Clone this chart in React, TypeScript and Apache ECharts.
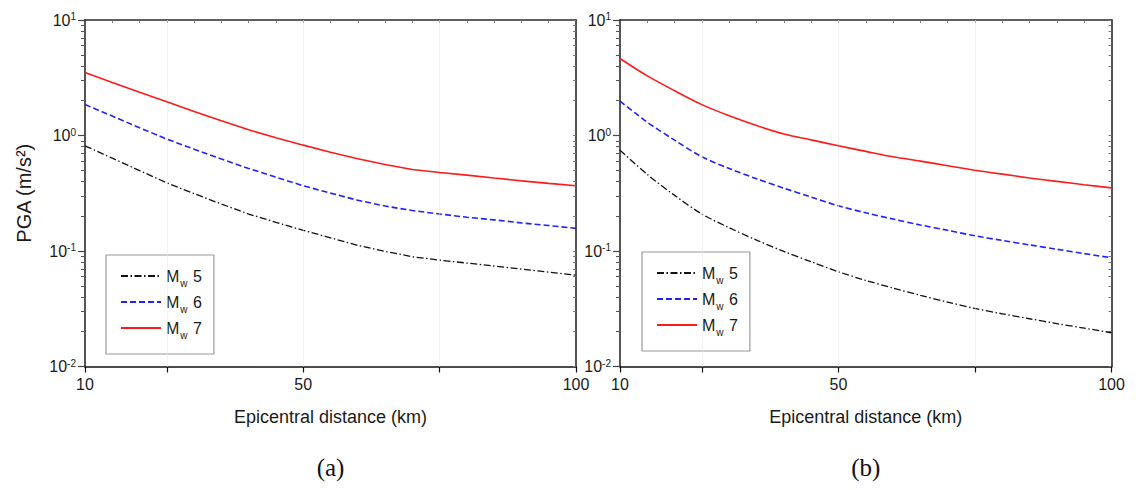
import { useEffect, useRef } from 'react';
import * as echarts from 'echarts';

// Epicentral distance (km)
const distances = [10, 15, 20, 25, 30, 35, 40, 45, 50, 55, 60, 65, 70, 75, 80, 85, 90, 95, 100];

// Panel (a) PGA (m/s^2)
const pgaA_Mw5 = [0.814, 0.636, 0.497, 0.389, 0.314, 0.255, 0.209, 0.177, 0.151, 0.130, 0.1117, 0.0994, 0.0891, 0.0834, 0.0786, 0.0740, 0.0697, 0.0657, 0.0618];
const pgaA_Mw6 = [1.854, 1.472, 1.168, 0.930, 0.762, 0.625, 0.518, 0.436, 0.367, 0.317, 0.275, 0.245, 0.224, 0.209, 0.196, 0.186, 0.175, 0.166, 0.157];
const pgaA_Mw7 = [3.51, 2.88, 2.37, 1.96, 1.61, 1.34, 1.12, 0.955, 0.825, 0.717, 0.628, 0.561, 0.508, 0.478, 0.454, 0.428, 0.405, 0.385, 0.367];

// Panel (b) PGA (m/s^2)
const pgaB_Mw5 = [0.746, 0.460, 0.303, 0.2086, 0.159, 0.1243, 0.0991, 0.0807, 0.0661, 0.0556, 0.0478, 0.0413, 0.0361, 0.0318, 0.0286, 0.0259, 0.0235, 0.0215, 0.0196];
const pgaB_Mw6 = [1.982, 1.304, 0.911, 0.654, 0.518, 0.422, 0.350, 0.293, 0.246, 0.214, 0.189, 0.168, 0.151, 0.1354, 0.1234, 0.1129, 0.1035, 0.0949, 0.0874];
const pgaB_Mw7 = [4.64, 3.28, 2.44, 1.85, 1.48, 1.22, 1.03, 0.917, 0.814, 0.729, 0.654, 0.600, 0.548, 0.501, 0.463, 0.429, 0.401, 0.375, 0.352];

const seriesNames = ['Mw 5', 'Mw 6', 'Mw 7'];
const xTickValues = [10, 25, 50, 75, 100];
const xLabelValues = [10, 50, 100];
const xTopTicks = [15, 20, 25, 30, 35, 40, 45, 50, 55, 60, 65, 70, 75, 80, 85, 90, 95];
const gridDistances = [25, 50, 75];
const panelLabels = ['(a)', '(b)'];
const xName = 'Epicentral distance (km)';
const yName = 'PGA (m/s²)';

const SANS = '"Liberation Sans", Arial, Helvetica, sans-serif';
const SERIF = '"Liberation Serif", "Times New Roman", serif';
const AX = '#2a2a2a';

// minor tick positions (log10 of 2..9 in each decade), major exponents
const decades = [-2, -1, 0];
const minorExp: number[] = [];
decades.forEach((e) => {
  for (let k = 2; k <= 9; k++) minorExp.push(e + Math.log10(k));
});
const majorExp = [-2, -1, 0, 1];

const pairs = (ys: number[]) => distances.map((d, i) => [d, ys[i]]);

const grids = [
  { left: 85, top: 20, width: 491, height: 346.5 },
  { left: 620, top: 20, width: 491.5, height: 346.5 },
];

export default function App() {
  const ref = useRef<HTMLDivElement>(null);

  useEffect(() => {
    if (!ref.current) return;
    const chart = echarts.init(ref.current, undefined, { renderer: 'svg' });

    const xAxes: any[] = [];
    const yAxes: any[] = [];
    grids.forEach((_, gi) => {
      xAxes.push({
        type: 'value',
        gridIndex: gi,
        position: 'bottom',
        min: 10,
        max: 100,
        name: xName,
        nameLocation: 'middle',
        nameGap: 41,
        nameTextStyle: { fontFamily: SANS, fontSize: 18, color: '#1a1a1a' },
        axisLine: { show: true, onZero: false, lineStyle: { color: '#111', width: 1.5 } },
        axisTick: { show: true, inside: false, length: 6, customValues: xTickValues, lineStyle: { color: '#111', width: 1.2 } },
        axisLabel: { show: true, customValues: xLabelValues, margin: 10, fontFamily: SANS, fontSize: 16, color: '#1a1a1a' },
        splitLine: { show: false },
      });
      xAxes.push({
        type: 'value',
        gridIndex: gi,
        position: 'top',
        min: 10,
        max: 100,
        axisLine: { show: true, onZero: false, lineStyle: { color: AX, width: 1.5 } },
        axisTick: { show: true, inside: true, length: 3, customValues: xTopTicks, lineStyle: { color: '#777', width: 1 } },
        axisLabel: { show: false },
        splitLine: { show: false },
      });
      yAxes.push({
        type: 'log',
        logBase: 10,
        gridIndex: gi,
        position: 'left',
        min: 0.01,
        max: 10,
        interval: 1,
        name: gi === 0 ? yName : '',
        nameLocation: 'middle',
        nameRotate: 90,
        nameGap: 51,
        nameTextStyle: { fontFamily: SANS, fontSize: 20, color: '#1a1a1a' },
        axisLine: { show: true, onZero: false, lineStyle: { color: '#555', width: 2 } },
        axisTick: { show: true, inside: false, length: 7, lineStyle: { color: '#444', width: 1.2 } },
        axisLabel: {
          show: true,
          margin: 9,
          formatter: (v: number) => `{b|10}{s|${Math.round(Math.log10(v))}}`,
          rich: {
            b: { fontFamily: SANS, fontSize: 16, lineHeight: 18, color: '#1a1a1a' },
            s: { fontFamily: SANS, fontSize: 10, lineHeight: 9, padding: [1, 0, 8, 0], color: '#1a1a1a' },
          },
        },
        splitLine: { show: false },
        minorTick: { show: false },
      });
      yAxes.push({
        type: 'value',
        gridIndex: gi,
        position: 'left',
        min: -2,
        max: 1,
        axisLine: { show: false, onZero: false },
        axisTick: { show: true, inside: false, length: 4, customValues: minorExp, lineStyle: { color: '#555', width: 1 } },
        axisLabel: { show: false },
        splitLine: { show: false },
      });
      yAxes.push({
        type: 'value',
        gridIndex: gi,
        position: 'right',
        min: -2,
        max: 1,
        axisLine: { show: true, onZero: false, lineStyle: { color: '#555', width: 2 } },
        axisTick: { show: true, inside: true, length: 3, customValues: [...majorExp, ...minorExp], lineStyle: { color: '#777', width: 1 } },
        axisLabel: { show: false },
        splitLine: { show: false },
      });
    });

    const styles = [
      { color: '#111111', type: [7, 2.5, 1.5, 2.5], width: 1.3 },
      { color: '#2121ff', type: [6, 3], width: 1.6 },
      { color: '#ff1a1a', type: 'solid', width: 1.6 },
    ];
    const panelData = [
      [pgaA_Mw5, pgaA_Mw6, pgaA_Mw7],
      [pgaB_Mw5, pgaB_Mw6, pgaB_Mw7],
    ];

    const series: any[] = [];
    panelData.forEach((sets, gi) => {
      sets.forEach((ys, si) => {
        series.push({
          type: 'line',
          name: seriesNames[si],
          xAxisIndex: gi * 2,
          yAxisIndex: gi * 3,
          data: pairs(ys),
          symbol: 'none',
          smooth: gi === 1 ? 0.3 : false,
          lineStyle: styles[si],
          itemStyle: { color: styles[si].color },
          z: 3 + si,
          markLine:
            si === 0
              ? {
                  silent: true,
                  symbol: ['none', 'none'],
                  label: { show: false },
                  lineStyle: { color: '#e6e6e6', type: 'dotted', width: 1 },
                  data: gridDistances.map((d) => ({ xAxis: d })),
                }
              : undefined,
        });
      });
    });

    const legendCommon = {
      orient: 'vertical',
      data: seriesNames,
      itemWidth: 40,
      itemHeight: 14,
      itemGap: 2,
      padding: [9, 12, 14, 14],
      borderColor: '#9a9a9a',
      borderWidth: 1.2,
      backgroundColor: '#ffffff',
      selectedMode: false,
      itemStyle: { opacity: 0, borderWidth: 0 },
      formatter: (name: string) => `{m|M}{w|w}{m| ${name.split(' ')[1]}}`,
      textStyle: {
        fontFamily: SANS,
        fontSize: 16,
        color: '#1a1a1a',
        rich: {
          m: { fontFamily: SANS, fontSize: 16, lineHeight: 24, color: '#1a1a1a' },
          w: { fontFamily: SANS, fontSize: 10, lineHeight: 10, padding: [14, 1, 0, 1], color: '#1a1a1a' },
        },
      },
    };

    chart.setOption({
      animation: false,
      backgroundColor: '#ffffff',
      grid: grids.map((g) => ({ ...g, containLabel: false, outerBoundsMode: 'none' })),
      xAxis: xAxes,
      yAxis: yAxes,
      legend: [
        { ...legendCommon, left: 106, top: 255 },
        { ...legendCommon, left: 642, top: 252 },
      ],
      graphic: panelLabels.map((t, i) => ({
        type: 'text',
        x: grids[i].left + grids[i].width / 2,
        y: 467,
        style: {
          text: t,
          fontFamily: SERIF,
          fontSize: 25,
          fill: '#111',
          textAlign: 'center',
          textVerticalAlign: 'middle',
        },
      })),
      series,
    });

    return () => chart.dispose();
  }, []);

  return (
    <div
      ref={ref}
      style={{ position: 'absolute', left: 0, top: 0, width: 1136, height: 490, background: '#fff' }}
    />
  );
}
